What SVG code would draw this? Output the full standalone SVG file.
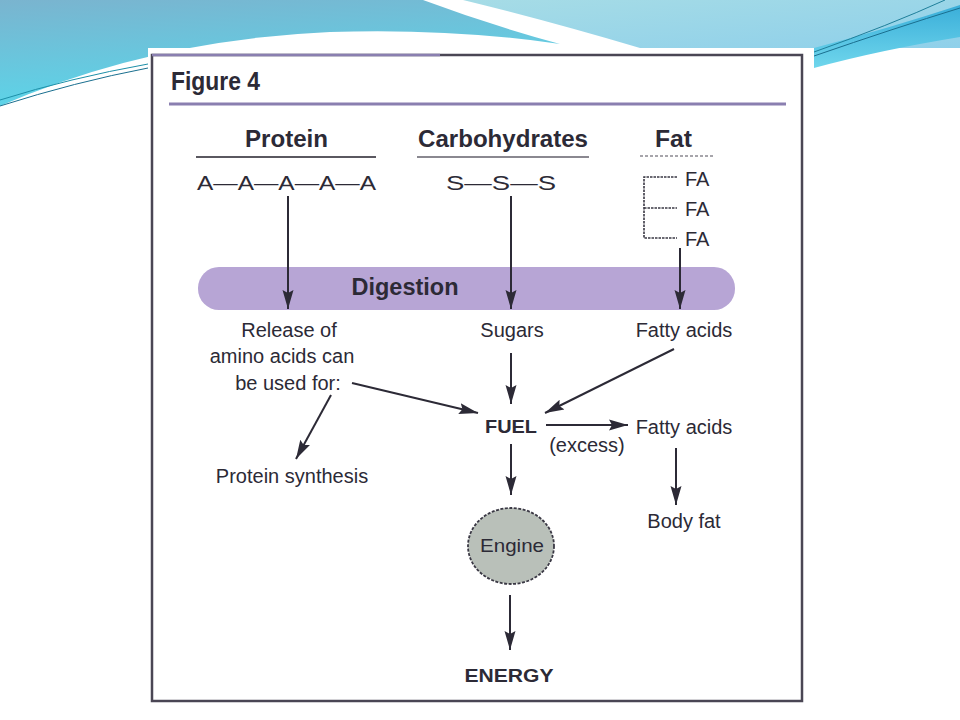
<svg xmlns="http://www.w3.org/2000/svg" width="960" height="720" viewBox="0 0 960 720">
<defs>
<linearGradient id="bgDark" x1="0" y1="0" x2="0.3" y2="1">
<stop offset="0" stop-color="#7ab4cf"/>
<stop offset="1" stop-color="#5ad6ea"/>
</linearGradient>
<linearGradient id="bgLight" x1="0" y1="0" x2="1" y2="1">
<stop offset="0" stop-color="#a6dce6"/>
<stop offset="1" stop-color="#8fd0ea"/>
</linearGradient>
<linearGradient id="band" x1="0" y1="0" x2="0" y2="1">
<stop offset="0" stop-color="#3aaed9"/>
<stop offset="1" stop-color="#6fd6ec"/>
</linearGradient>
<marker id="ah" markerUnits="userSpaceOnUse" markerWidth="20" markerHeight="14" refX="19" refY="7" orient="auto">
<path d="M0,1.5 L19,7 L0,12.5 L3,7 Z" fill="#2c2a36"/>
</marker>
<style>
.t{font-family:"Liberation Sans",Arial,sans-serif;fill:#2c2a36;}
.r{font-size:20px;}
.b{font-size:23px;font-weight:bold;}
.c{text-anchor:middle;}
.ar{stroke:#2c2a36;stroke-width:2;fill:none;marker-end:url(#ah);}
</style>
</defs>
<g id="background">
<rect x="0" y="0" width="960" height="720" fill="#ffffff"/>
<path d="M463,0 L960,0 L960,48 L640,48 Q545,20 463,0 Z" fill="url(#bgLight)"/>
<path d="M0,0 L423,0 Q490,25 560,44 Q450,28 330,32 Q150,40 0,106 Z" fill="url(#bgDark)"/>
<path d="M814,48 Q890,28 960,5 L960,37 Q880,50 814,68 Z" fill="url(#band)"/>
<path d="M814,52 Q890,25 945,0" stroke="#1f7f9a" stroke-width="1" fill="none"/>
<path d="M814,56 Q895,28 960,8" stroke="#1a6f8f" stroke-width="1" fill="none"/>
<path d="M0,100 Q70,78 148,64" stroke="#1d8fa8" stroke-width="1" fill="none"/>
<path d="M0,106 Q75,82 148,68" stroke="#1a6f8f" stroke-width="1" fill="none"/>
<rect x="148" y="48" width="666" height="664" fill="#ffffff"/>
</g>
<g id="frame">
<rect x="152" y="55" width="650" height="646" fill="none" stroke="#4a4654" stroke-width="2.5"/>
<line x1="152" y1="55" x2="440" y2="55" stroke="#8a7fb0" stroke-width="2.5"/>
<text class="t" x="171" y="90" font-size="25" font-weight="bold" textLength="89" lengthAdjust="spacingAndGlyphs" fill="#3b3448">Figure 4</text>
<line x1="169" y1="104" x2="786" y2="104" stroke="#8a7fb0" stroke-width="3"/>
</g>
<g id="protein">
<text class="t b" x="245" y="147" textLength="83" lengthAdjust="spacingAndGlyphs">Protein</text>
<line x1="196" y1="157" x2="376" y2="157" stroke="#5a5860" stroke-width="2"/>
<text class="t" x="197" y="190" font-size="21" textLength="179" lengthAdjust="spacingAndGlyphs">A—A—A—A—A</text>
</g>
<g id="carbohydrates">
<text class="t b" x="418" y="147" textLength="170" lengthAdjust="spacingAndGlyphs">Carbohydrates</text>
<line x1="417" y1="157" x2="589" y2="157" stroke="#8a8890" stroke-width="2"/>
<text class="t" x="446" y="190" font-size="21" textLength="110" lengthAdjust="spacingAndGlyphs">S—S—S</text>
</g>
<g id="fat">
<text class="t b" x="655" y="147" textLength="37" lengthAdjust="spacingAndGlyphs">Fat</text>
<line x1="640" y1="156" x2="713" y2="156" stroke="#8a8890" stroke-width="1.5" stroke-dasharray="3,2"/>
<path d="M677,177 H644 V238 H677 M644,208 H677" stroke="#3a3844" stroke-width="1.6" fill="none" stroke-dasharray="2.5,1"/>
<text class="t r" x="685" y="186">FA</text>
<text class="t r" x="685" y="216">FA</text>
<text class="t r" x="685" y="246">FA</text>
</g>
<g id="digestion">
<rect x="198" y="267" width="537" height="43" rx="21" ry="21" fill="#b7a5d5"/>
<text class="t b" x="405" y="295" text-anchor="middle" font-size="21" textLength="107" lengthAdjust="spacingAndGlyphs">Digestion</text>
</g>
<g id="release">
<text class="t r c" x="289" y="337">Release of</text>
<text class="t r c" x="282" y="363">amino acids can</text>
<text class="t r c" x="288" y="390">be used for:</text>
</g>
<g id="sugars"><text class="t r c" x="512" y="337">Sugars</text></g>
<g id="fatty1"><text class="t r c" x="684" y="337">Fatty acids</text></g>
<g id="fuel"><text class="t c" x="511" y="433" font-size="19" font-weight="bold" textLength="52" lengthAdjust="spacingAndGlyphs">FUEL</text></g>
<g id="excess"><text class="t r c" x="587" y="452">(excess)</text></g>
<g id="fatty2"><text class="t r c" x="684" y="434">Fatty acids</text></g>
<g id="protsynth"><text class="t r c" x="292" y="483">Protein synthesis</text></g>
<g id="bodyfat"><text class="t r c" x="684" y="528">Body fat</text></g>
<g id="engine">
<ellipse cx="511" cy="546" rx="43" ry="38" fill="#b9c0b9" stroke="#3a3844" stroke-width="1.8" stroke-dasharray="3,1.5"/>
<text class="t c" x="512" y="552" font-size="19" textLength="64" lengthAdjust="spacingAndGlyphs">Engine</text>
</g>
<g id="energy"><text class="t c" x="509" y="682" font-size="19" font-weight="bold" textLength="89" lengthAdjust="spacingAndGlyphs">ENERGY</text></g>
<g id="connectors">
<line class="ar" x1="288" y1="196" x2="288" y2="309"/>
<line class="ar" x1="511" y1="196" x2="511" y2="309"/>
<line class="ar" x1="680" y1="248" x2="680" y2="309"/>
<line class="ar" x1="511" y1="353" x2="511" y2="404"/>
<line class="ar" x1="352" y1="383" x2="478" y2="413"/>
<line class="ar" x1="674" y1="349" x2="545" y2="413"/>
<line class="ar" x1="546" y1="425" x2="628" y2="425"/>
<line class="ar" x1="331" y1="395" x2="296" y2="459"/>
<line class="ar" x1="511" y1="444" x2="511" y2="495"/>
<line class="ar" x1="676" y1="448" x2="676" y2="505"/>
<line class="ar" x1="510" y1="595" x2="510" y2="650"/>
</g>
</svg>
